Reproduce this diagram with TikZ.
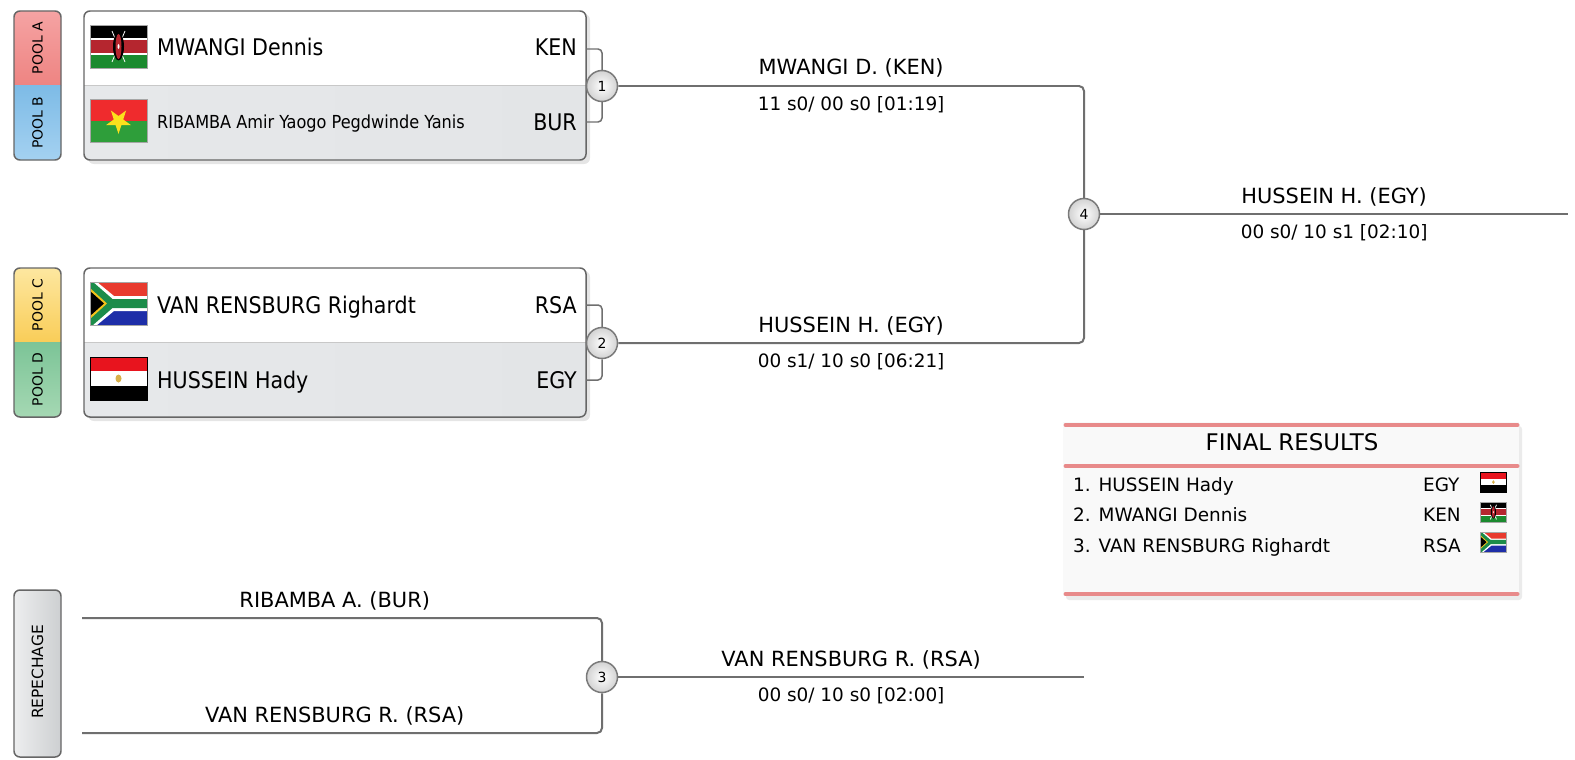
\documentclass[tikz,border=0pt]{standalone}
\usepackage{fontspec}
\setmainfont{DejaVu Sans}
\newfontfamily\condfont{DejaVu Sans Condensed}
\definecolor{linegray}{HTML}{6F6F6F}
\definecolor{edgegray}{HTML}{666666}
\definecolor{circedge}{HTML}{7A7A7A}
\definecolor{sepgray}{HTML}{C8C8C8}
\definecolor{rowl}{HTML}{E6E8EA}
\definecolor{rowm}{HTML}{F5F6F7}
\definecolor{rowr}{HTML}{E3E5E7}
\definecolor{poolAt}{HTML}{F5A3A3}
\definecolor{poolAb}{HTML}{EE8482}
\definecolor{poolBt}{HTML}{7DBBE6}
\definecolor{poolBb}{HTML}{A4D1F1}
\definecolor{poolCt}{HTML}{FDE7A0}
\definecolor{poolCb}{HTML}{F9CD58}
\definecolor{poolDt}{HTML}{7CC497}
\definecolor{poolDb}{HTML}{A5D8B3}
\definecolor{kenred}{HTML}{B5262F}
\definecolor{kengreen}{HTML}{1B8A2F}
\definecolor{bfred}{HTML}{EF2B2D}
\definecolor{bfgreen}{HTML}{2E9E3A}
\definecolor{bfyellow}{HTML}{FCE01C}
\definecolor{sared}{HTML}{E83A2E}
\definecolor{sablue}{HTML}{1E2EA8}
\definecolor{sagreen}{HTML}{1C8C4A}
\definecolor{sagold}{HTML}{F2C21C}
\definecolor{egred}{HTML}{E8141E}
\definecolor{eggold}{HTML}{D8B04A}
\definecolor{resbar}{HTML}{E88A8A}
\definecolor{resbg}{HTML}{F9F9F9}
\definecolor{repl}{HTML}{EDEEEF}
\definecolor{repr}{HTML}{CDCFD1}
\tikzset{
  flagedge/.style={draw=gray!70, line width=0.8pt},
  flagken/.pic={
    \fill[black] (0,0) rectangle (57,13);
    \fill[white] (0,13) rectangle (57,15);
    \fill[kenred] (0,15) rectangle (57,28);
    \fill[white] (0,28) rectangle (57,30);
    \fill[kengreen] (0,30) rectangle (57,43);
    \draw[white, line width=0.8pt] (22,6) -- (35,37) (35,6) -- (22,37);
    \fill[black] (28.5,21.5) ellipse (5.5 and 14);
    \fill[kenred] (28.5,21.5) ellipse (3 and 12.5);
    \fill[white] (28.5,21.5) ellipse (1 and 2.5);
    \draw[flagedge] (0,0) rectangle (57,43);
  },
  flagbur/.pic={
    \fill[bfred] (0,0) rectangle (57,21.5);
    \fill[bfgreen] (0,21.5) rectangle (57,43);
    \fill[bfyellow] (28.5,22) +(90:13) -- +(234:13) -- +(18:13) -- +(162:13) -- +(306:13) -- cycle;
    \draw[flagedge] (0,0) rectangle (57,43);
  },
  flagrsa/.pic={
    \fill[sared] (0,0) rectangle (57,21.5);
    \fill[sablue] (0,21.5) rectangle (57,43);
    \fill[white] (0,0) -- (7,0) -- (24,14) -- (57,14) -- (57,29) -- (24,29) -- (7,43) -- (0,43) -- cycle;
    \fill[sagreen] (0,0) -- (3,0) -- (22.5,17) -- (57,17) -- (57,26) -- (22.5,26) -- (3,43) -- (0,43) -- cycle;
    \fill[sagold] (0,6) -- (17,21.5) -- (0,37) -- cycle;
    \fill[black] (0,9) -- (14,21.5) -- (0,34) -- cycle;
    \draw[flagedge] (0,0) rectangle (57,43);
  },
  flagegy/.pic={
    \fill[egred] (0,0) rectangle (57,14.3);
    \fill[white] (0,14.3) rectangle (57,28.7);
    \fill[black] (0,28.7) rectangle (57,43);
    \fill[eggold] (28.5,21.5) ellipse (3 and 4);
    \draw[black, line width=0.8pt] (0,0) rectangle (57,43);
  },
}
\begin{document}
\begin{tikzpicture}[x=1bp, y=-1bp,
  bline/.style={draw=linegray, line width=2pt, rounded corners=5pt},
  bracket/.style={draw=linegray, line width=1.5pt, rounded corners=4pt},
  boxedge/.style={draw=edgegray, line width=1.5pt, rounded corners=6pt},
  match/.style={circle, draw=circedge, line width=1.5pt, inner color=white, outer color=gray!35,
    minimum size=31bp, inner sep=0pt, font=\fontsize{14}{16}\selectfont},
  pool/.style={rotate=90, inner sep=0pt, font=\fontsize{14}{16}\selectfont},
  wlabel/.style={anchor=base, inner sep=0pt, yshift=11bp, font=\fontsize{21}{25}\selectfont},
  wscore/.style={anchor=base, inner sep=0pt, yshift=-24bp, font=\fontsize{18.5}{22}\selectfont},
  fname/.style={anchor=base west, inner sep=0pt, font=\condfont\fontsize{23}{27}\selectfont},
  fsmall/.style={anchor=base west, inner sep=0pt, font=\condfont\fontsize{18}{22}\selectfont},
  fcode/.style={anchor=base east, inner sep=0pt, font=\condfont\fontsize{23}{27}\selectfont},
  resrow/.style={anchor=base west, inner sep=0pt, font=\fontsize{18.5}{22}\selectfont},
  restitle/.style={anchor=base, inner sep=0pt, font=\fontsize{23}{27}\selectfont}]
\useasboundingbox (0,0) rectangle (1575,760);
\fill[white] (0,0) rectangle (1575,760);

% pools and match boxes
\foreach \t/\ca/\cb/\cc/\cd/\la/\lb in {11/poolAt/poolAb/poolBt/poolBb/A/B, 268/poolCt/poolCb/poolDt/poolDb/C/D}{
  \pgfmathsetmacro\m{\t+74}
  \pgfmathsetmacro\b{\t+149}
  \begin{scope}
    \clip[rounded corners=6pt] (14,\t) rectangle (61,\b);
    \shade[top color=\ca, bottom color=\cb] (14,\t) rectangle (61,\m);
    \shade[top color=\cc, bottom color=\cd] (14,\m) rectangle (61,\b);
  \end{scope}
  \draw[boxedge] (14,\t) rectangle (61,\b);
  \node[pool] (pool\la) at (37.5,\t+37) {POOL \la};
  \node[pool] (pool\lb) at (37.5,\m+37.5) {POOL \lb};
  \fill[black, opacity=0.10, rounded corners=6pt] (88,\t+3) rectangle (590,\b+4);
  \begin{scope}
    \clip[rounded corners=6pt] (84,\t) rectangle (586,\b);
    \fill[white] (84,\t) rectangle (586,\m);
    \shade[left color=rowl, middle color=rowm, right color=rowr] (84,\m) rectangle (586,\b);
    \draw[sepgray, line width=1pt] (84,\m) -- (586,\m);
  \end{scope}
  \draw[boxedge] (84,\t) rectangle (586,\b);
}

% fencers
\pic at (90,25) {flagken};
\node[fname] (ken) at (157,56) {MWANGI Dennis};
\node[fcode] (kenc) at (577,56) {KEN};
\pic at (90,99) {flagbur};
\node[fsmall] (bur) at (157,128.6) {RIBAMBA Amir Yaogo Pegdwinde Yanis};
\node[fcode] (burc) at (577,130.7) {BUR};
\pic at (90,282) {flagrsa};
\node[fname] (rsa) at (157,313) {VAN RENSBURG Righardt};
\node[fcode] (rsac) at (577,313) {RSA};
\pic at (90,357) {flagegy};
\node[fname] (egy) at (157,388.4) {HUSSEIN Hady};
\node[fcode] (egyc) at (577,388.4) {EGY};

% repechage
\shade[left color=repl, right color=repr, rounded corners=6pt] (14,590) rectangle (61,757);
\draw[boxedge] (14,590) rectangle (61,757);
\node[pool, font=\fontsize{15.5}{18}\selectfont] (rep) at (37.5,672) {REPECHAGE};

% matches
\node[match] (m1) at (602,86) {1};
\node[match] (m2) at (602,343) {2};
\node[match] (m3) at (602,677) {3};
\node[match] (m4) at (1084,214) {4};

\coordinate (p1a) at (586,49);
\coordinate (p1b) at (586,122);
\coordinate (p2a) at (586,305);
\coordinate (p2b) at (586,380);
\coordinate (r3a) at (82,618);
\coordinate (r3b) at (82,733);
\coordinate (e3) at (1084,677);
\coordinate (e4) at (1568,214);

\draw[bracket] (p1a) -| (m1.north);
\draw[bracket] (p1b) -| (m1.south);
\draw[bracket] (p2a) -| (m2.north);
\draw[bracket] (p2b) -| (m2.south);

\draw[bline] (m1.east) -- node[wlabel]{MWANGI D. (KEN)} node[wscore]{11 s0/ 00 s0 [01:19]} (m1.east -| m4) -- (m4.north);
\draw[bline] (m2.east) -- node[wlabel]{HUSSEIN H. (EGY)} node[wscore]{00 s1/ 10 s0 [06:21]} (m2.east -| m4) -- (m4.south);
\draw[bline] (m4.east) -- node[wlabel]{HUSSEIN H. (EGY)} node[wscore]{00 s0/ 10 s1 [02:10]} (e4);
\draw[bline] (r3a) -- node[wlabel, pos=0.486]{RIBAMBA A. (BUR)} (r3a -| m3) -- (m3.north);
\draw[bline] (r3b) -- node[wlabel, pos=0.486]{VAN RENSBURG R. (RSA)} (r3b -| m3) -- (m3.south);
\draw[bline] (m3.east) -- node[wlabel]{VAN RENSBURG R. (RSA)} node[wscore]{00 s0/ 10 s0 [02:00]} (e3);

% final results
\fill[black, opacity=0.08, rounded corners=3pt] (1066,426) rectangle (1522,600);
\fill[resbg] (1063,422) rectangle (1519,596);
\foreach \y in {425,466,594}
  \draw[resbar, line width=5pt, line cap=round] (1066,\y) -- (1517,\y);
\node[restitle] (rtitle) at (1292,450.5) {FINAL RESULTS};
\node[resrow] (res1) at (1073,491) {1. HUSSEIN Hady};
\node[resrow] (res1c) at (1423,491) {EGY};
\pic[scale=0.47] at (1480,472) {flagegy};
\node[resrow] (res2) at (1073,521) {2. MWANGI Dennis};
\node[resrow] (res2c) at (1423,521) {KEN};
\pic[scale=0.47] at (1480,502) {flagken};
\node[resrow] (res3) at (1073,552) {3. VAN RENSBURG Righardt};
\node[resrow] (res3c) at (1423,552) {RSA};
\pic[scale=0.47] at (1480,532) {flagrsa};
\end{tikzpicture}
\end{document}
